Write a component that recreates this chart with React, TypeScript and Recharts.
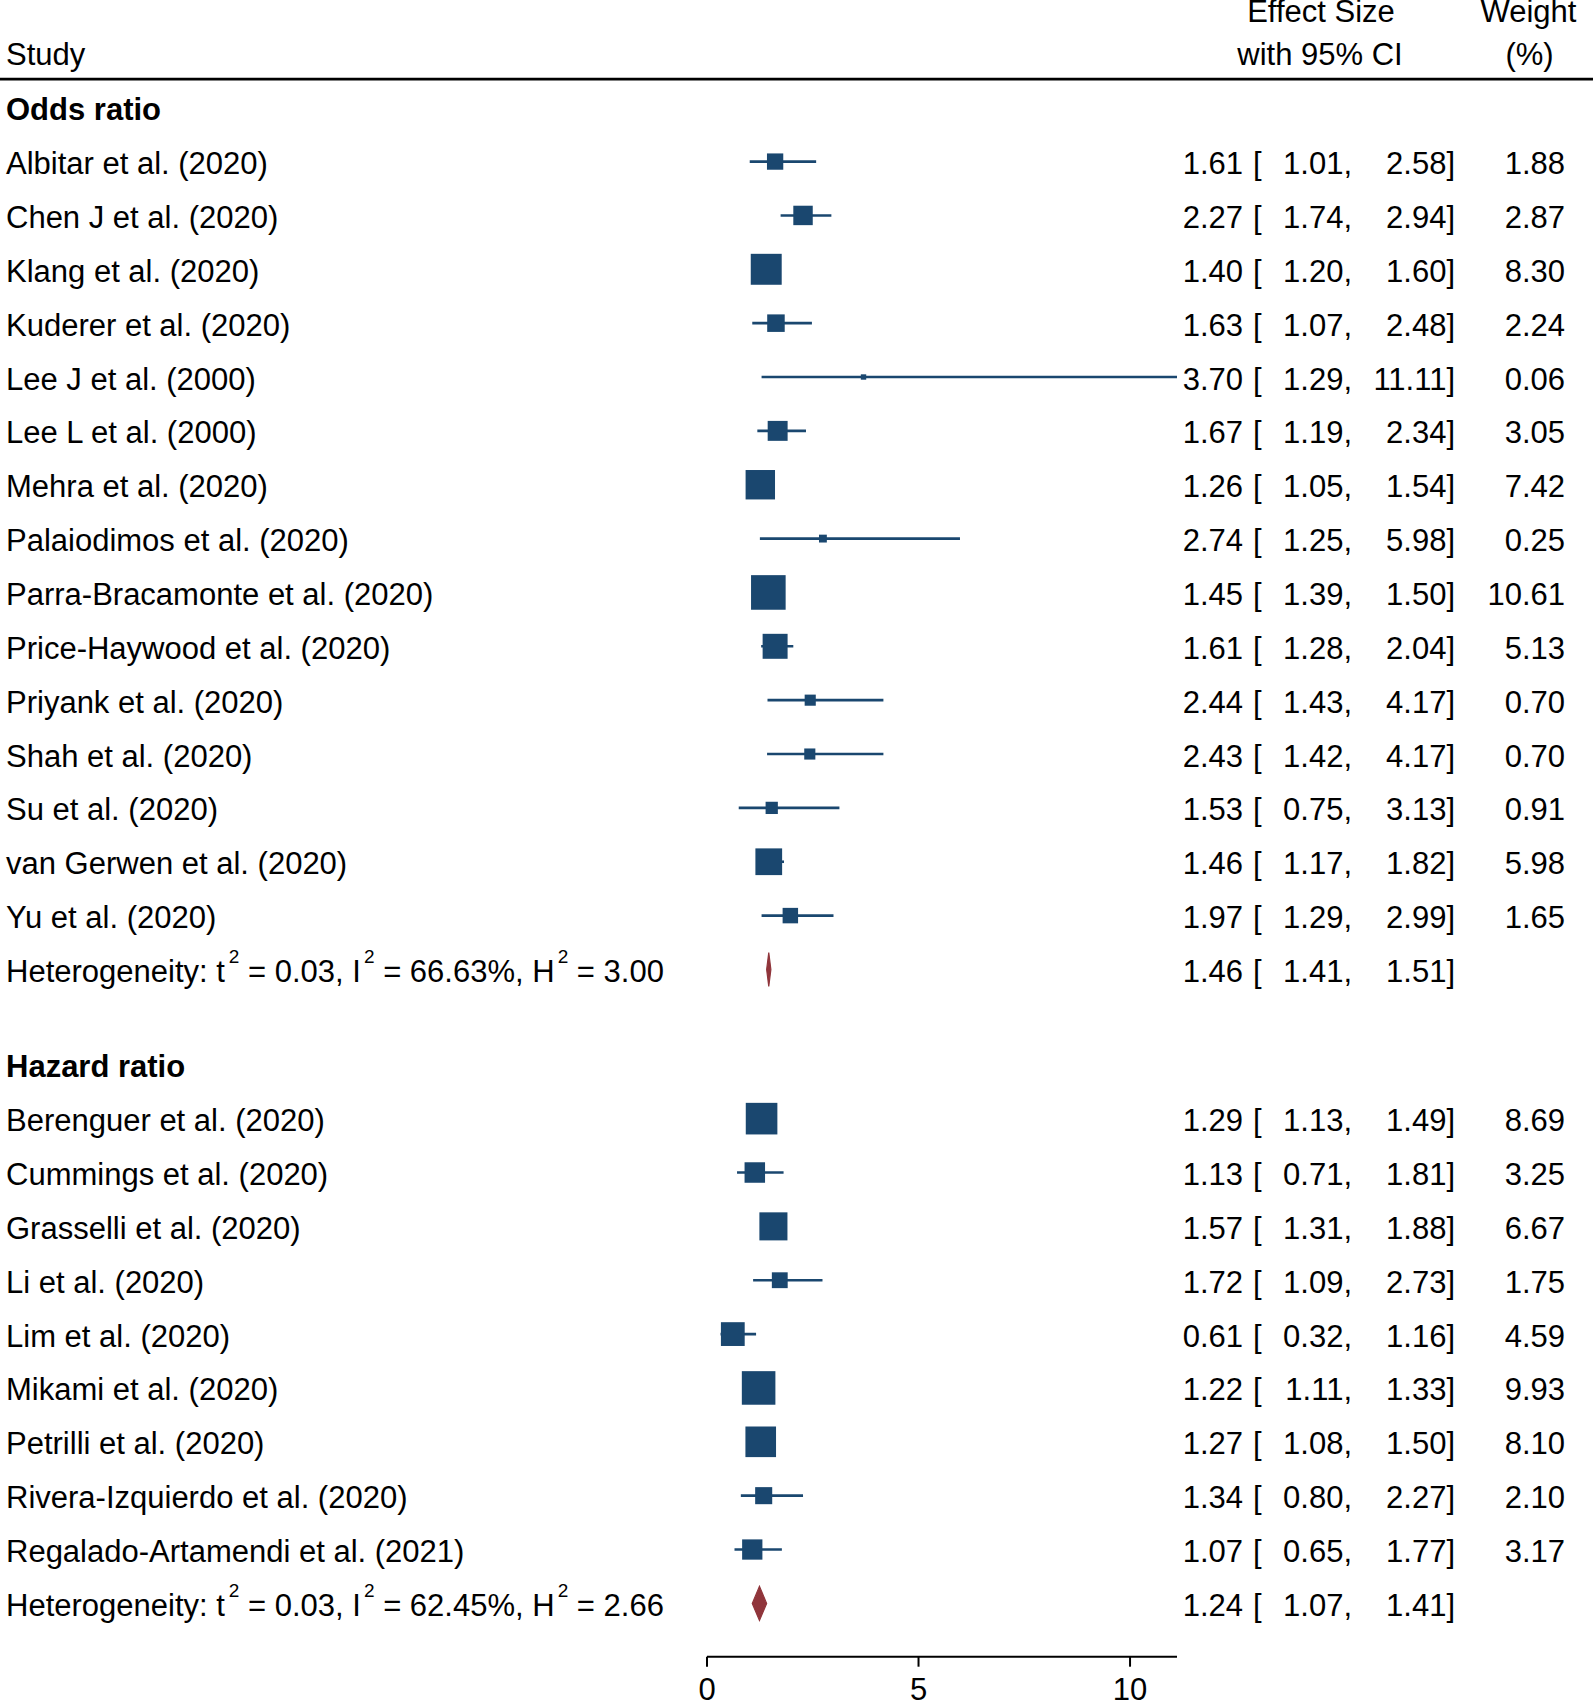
import React from 'react';
import { ComposedChart, Scatter, XAxis, YAxis, ErrorBar } from 'recharts';

// ---------------- Data ----------------
const oddsStudies = [
  'Albitar et al. (2020)',
  'Chen J et al. (2020)',
  'Klang et al. (2020)',
  'Kuderer et al. (2020)',
  'Lee J et al. (2000)',
  'Lee L et al. (2000)',
  'Mehra et al. (2020)',
  'Palaiodimos et al. (2020)',
  'Parra-Bracamonte et al. (2020)',
  'Price-Haywood et al. (2020)',
  'Priyank et al. (2020)',
  'Shah et al. (2020)',
  'Su et al. (2020)',
  'van Gerwen et al. (2020)',
  'Yu et al. (2020)',
];
const oddsES = [1.61, 2.27, 1.4, 1.63, 3.7, 1.67, 1.26, 2.74, 1.45, 1.61, 2.44, 2.43, 1.53, 1.46, 1.97];
const oddsLower = [1.01, 1.74, 1.2, 1.07, 1.29, 1.19, 1.05, 1.25, 1.39, 1.28, 1.43, 1.42, 0.75, 1.17, 1.29];
const oddsUpper = [2.58, 2.94, 1.6, 2.48, 11.11, 2.34, 1.54, 5.98, 1.5, 2.04, 4.17, 4.17, 3.13, 1.82, 2.99];
const oddsWeight = [1.88, 2.87, 8.3, 2.24, 0.06, 3.05, 7.42, 0.25, 10.61, 5.13, 0.7, 0.7, 0.91, 5.98, 1.65];

const hazardStudies = [
  'Berenguer et al. (2020)',
  'Cummings et al. (2020)',
  'Grasselli et al. (2020)',
  'Li et al. (2020)',
  'Lim et al. (2020)',
  'Mikami et al. (2020)',
  'Petrilli et al. (2020)',
  'Rivera-Izquierdo et al. (2020)',
  'Regalado-Artamendi et al. (2021)',
];
const hazardES = [1.29, 1.13, 1.57, 1.72, 0.61, 1.22, 1.27, 1.34, 1.07];
const hazardLower = [1.13, 0.71, 1.31, 1.09, 0.32, 1.11, 1.08, 0.8, 0.65];
const hazardUpper = [1.49, 1.81, 1.88, 2.73, 1.16, 1.33, 1.5, 2.27, 1.77];
const hazardWeight = [8.69, 3.25, 6.67, 1.75, 4.59, 9.93, 8.1, 2.1, 3.17];

const groupTitles = ['Odds ratio', 'Hazard ratio'];
const summaryES = [1.46, 1.24];
const summaryLower = [1.41, 1.07];
const summaryUpper = [1.51, 1.41];
const summaryTau2 = ['0.03', '0.03'];
const summaryI2 = ['66.63%', '62.45%'];
const summaryH2 = ['3.00', '2.66'];

const xTicks = [0, 5, 10];

// ---------------- Styles / layout ----------------
const FONT = '"Liberation Sans", Arial, Helvetica, sans-serif';
const NAVY = '#1a476f';
const MAROON = '#90353b';
const FS = 31;
const W = 1593;
const H = 1702;
const GROUP_GAP = 1.77;

type Row = {
  kind: 'header' | 'group' | 'study' | 'summary';
  pos: number;
  label?: string;
  es?: number;
  lo?: number;
  hi?: number;
  w?: number;
  g?: number;
};

const groups = [
  { studies: oddsStudies, es: oddsES, lo: oddsLower, hi: oddsUpper, w: oddsWeight },
  { studies: hazardStudies, es: hazardES, lo: hazardLower, hi: hazardUpper, w: hazardWeight },
];

const rows: Row[] = [];
rows.push({ kind: 'header', pos: -1 });
let cursor = 0;
groups.forEach((grp, gi) => {
  if (gi > 0) cursor += GROUP_GAP;
  rows.push({ kind: 'group', pos: cursor, label: groupTitles[gi] });
  grp.studies.forEach((name, i) => {
    cursor += 1;
    rows.push({ kind: 'study', pos: cursor, label: name, es: grp.es[i], lo: grp.lo[i], hi: grp.hi[i], w: grp.w[i] });
  });
  cursor += 1;
  rows.push({ kind: 'summary', pos: cursor, es: summaryES[gi], lo: summaryLower[gi], hi: summaryUpper[gi], g: gi });
});

const rowPositions = rows.map((r) => r.pos);

const studyPoints = rows
  .filter((r) => r.kind === 'study')
  .map((r) => ({ x: r.es, y: r.pos, w: r.w, err: [(r.es as number) - (r.lo as number), (r.hi as number) - (r.es as number)] }));

const summaryPointSets = rows
  .filter((r) => r.kind === 'summary')
  .map((r) => [
    { x: r.lo, y: r.pos },
    { x: r.es, y: r.pos },
    { x: r.hi, y: r.pos },
  ]);

// ---------------- Renderers ----------------
const txt = { fontFamily: FONT, fontSize: FS, fill: '#000' } as const;

const COL_ES_END = 1243;
const COL_BRACKET = 1253;
const COL_LO_END = 1352;
const COL_HI_END = 1455;
const COL_W_END = 1565;
const LEFT_X = 6;
const BASE = 12.5;

function renderRowTick(props: any) {
  const { y, payload } = props;
  const row = rows.find((r) => Math.abs(r.pos - payload.value) < 1e-6);
  if (!row) return <g />;
  const b = y + BASE;
  if (row.kind === 'header') {
    return (
      <g>
        <text x={LEFT_X} y={y + 11} {...txt}>Study</text>
        <text x={1321} y={y - 32} textAnchor="middle" {...txt}>Effect Size</text>
        <text x={1320} y={y + 11} textAnchor="middle" {...txt}>with 95% CI</text>
        <text x={1528.5} y={y - 32} textAnchor="middle" {...txt}>Weight</text>
        <text x={1529.5} y={y + 11} textAnchor="middle" {...txt}>(%)</text>
        <line x1={0} x2={W} y1={y + 25.3} y2={y + 25.3} stroke="#000" strokeWidth={2.6} />
      </g>
    );
  }
  if (row.kind === 'group') {
    return (
      <text x={LEFT_X} y={b} {...txt} fontWeight="bold">{row.label}</text>
    );
  }
  const right = (
    <g>
      <text x={COL_ES_END} y={b} textAnchor="end" {...txt}>{(row.es as number).toFixed(2)}</text>
      <text x={COL_BRACKET} y={b} {...txt}>[</text>
      <text x={COL_LO_END} y={b} textAnchor="end" {...txt}>{(row.lo as number).toFixed(2) + ','}</text>
      <text x={COL_HI_END} y={b} textAnchor="end" {...txt}>{(row.hi as number).toFixed(2) + ']'}</text>
      {row.kind === 'study' ? (
        <text x={COL_W_END} y={b} textAnchor="end" {...txt}>{(row.w as number).toFixed(2)}</text>
      ) : null}
    </g>
  );
  if (row.kind === 'study') {
    return (
      <g>
        <text x={LEFT_X} y={b} {...txt}>{row.label}</text>
        {right}
      </g>
    );
  }
  const gi = row.g as number;
  const up = 19;
  return (
    <g>
      <text x={LEFT_X} y={b} {...txt}>
        Heterogeneity: t
        <tspan dx={4} dy={-up} fontSize={19}>2</tspan>
        <tspan dy={up} fontSize={FS}>{' = ' + summaryTau2[gi] + ', I'}</tspan>
        <tspan dx={3} dy={-up} fontSize={19}>2</tspan>
        <tspan dy={up} fontSize={FS}>{' = ' + summaryI2[gi] + ', H'}</tspan>
        <tspan dx={3} dy={-up} fontSize={19}>2</tspan>
        <tspan dy={up} fontSize={FS}>{' = ' + summaryH2[gi]}</tspan>
      </text>
      {right}
    </g>
  );
}

function SquareShape(props: any) {
  const { cx, cy, payload } = props;
  if (cx == null || cy == null) return <g />;
  const side = 3 + 9.7 * Math.sqrt(payload.w);
  return <rect x={cx - side / 2} y={cy - side / 2} width={side} height={side} fill={NAVY} />;
}

function DiamondLine(props: any) {
  const pts = props.points || [];
  if (pts.length < 3) return <g />;
  const [a, m, c] = pts;
  const half = 17;
  const d = `${a.x},${a.y} ${m.x},${m.y - half} ${c.x},${c.y} ${m.x},${m.y + half}`;
  return <polygon points={d} fill={MAROON} stroke={MAROON} strokeWidth={1.2} strokeLinejoin="miter" />;
}

const EmptyShape = () => <g />;

export default function App() {
  return (
    <div style={{ position: 'absolute', left: 0, top: 0, width: W, height: H, background: '#fff' }}>
      <ComposedChart width={W} height={H} margin={{ top: 0, right: 416, bottom: 0, left: 0 }}>
        <XAxis
          type="number"
          dataKey="x"
          domain={[0, 11.11]}
          allowDataOverflow
          ticks={xTicks}
          interval={0}
          height={45.3}
          tickSize={10}
          tickMargin={11}
          axisLine={{ stroke: '#000', strokeWidth: 2 }}
          tickLine={{ stroke: '#000', strokeWidth: 2 }}
          tick={{ fontFamily: FONT, fontSize: FS, fill: '#000' }}
        />
        <YAxis
          type="number"
          dataKey="y"
          domain={[-2.0, 28.76]}
          allowDataOverflow
          reversed
          width={707}
          ticks={rowPositions}
          interval={0}
          axisLine={false}
          tickLine={false}
          tick={renderRowTick}
        />
        <Scatter data={studyPoints} fill={NAVY} shape={SquareShape} isAnimationActive={false}>
          <ErrorBar dataKey="err" direction="x" width={0} stroke={NAVY} strokeWidth={2.6} isAnimationActive={false} />
        </Scatter>
        {summaryPointSets.map((pts, i) => (
          <Scatter
            key={'sum' + i}
            data={pts}
            fill={MAROON}
            line={DiamondLine}
            lineType="joint"
            shape={EmptyShape}
            isAnimationActive={false}
          />
        ))}
      </ComposedChart>
    </div>
  );
}
